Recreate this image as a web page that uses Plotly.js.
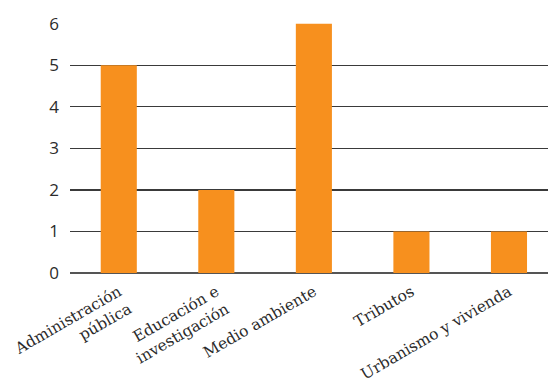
<!DOCTYPE html>
<html><head><meta charset="utf-8">
<script src="https://cdn.plot.ly/plotly-3.0.1.min.js"></script>
<style>html,body{margin:0;padding:0;background:#fff}#c{width:548px;height:381px}</style>
</head><body><div id="c"></div>
<script>
const categories = ["Administración<br>pública", "Educación e<br>investigación", "Medio ambiente", "Tributos", "Urbanismo y vivienda"];
const values = [5, 2, 6, 1, 1];
const yTicks = [0, 1, 2, 3, 4, 5, 6];

Plotly.newPlot('c', [{
  type: 'bar',
  x: [0, 1, 2, 3, 4],
  y: values,
  marker: {color: '#F7901E'},
  hoverinfo: 'none'
}], {
  width: 548, height: 381,
  margin: {l: 70, r: 0, t: 23, b: 108},
  paper_bgcolor: '#fff', plot_bgcolor: '#fff',
  bargap: 0.63,
  showlegend: false,
  xaxis: {
    range: [-0.5, 4.4],
    tickmode: 'array', tickvals: [0, 1, 2, 3, 4], ticktext: categories,
    tickangle: -30,
    showgrid: false, zeroline: false, showline: false,
    ticks: '',
    ticklabelstandoff: 6,
    tickfont: {family: 'DejaVu Serif', size: 15.5, color: '#2b2b2b'},
    fixedrange: true
  },
  yaxis: {
    range: [0, 6.02],
    tickmode: 'array', tickvals: yTicks,
    showgrid: true, gridcolor: '#3a3a3a', gridwidth: 1.2,
    zeroline: true, zerolinecolor: '#555', zerolinewidth: 2,
    showline: false, ticks: '',
    ticklabelstandoff: 10,
    tickfont: {family: 'Open Sans', size: 17, color: '#2b2b2b'},
    fixedrange: true
  }
}, {displayModeBar: false, staticPlot: true});
</script></body></html>
